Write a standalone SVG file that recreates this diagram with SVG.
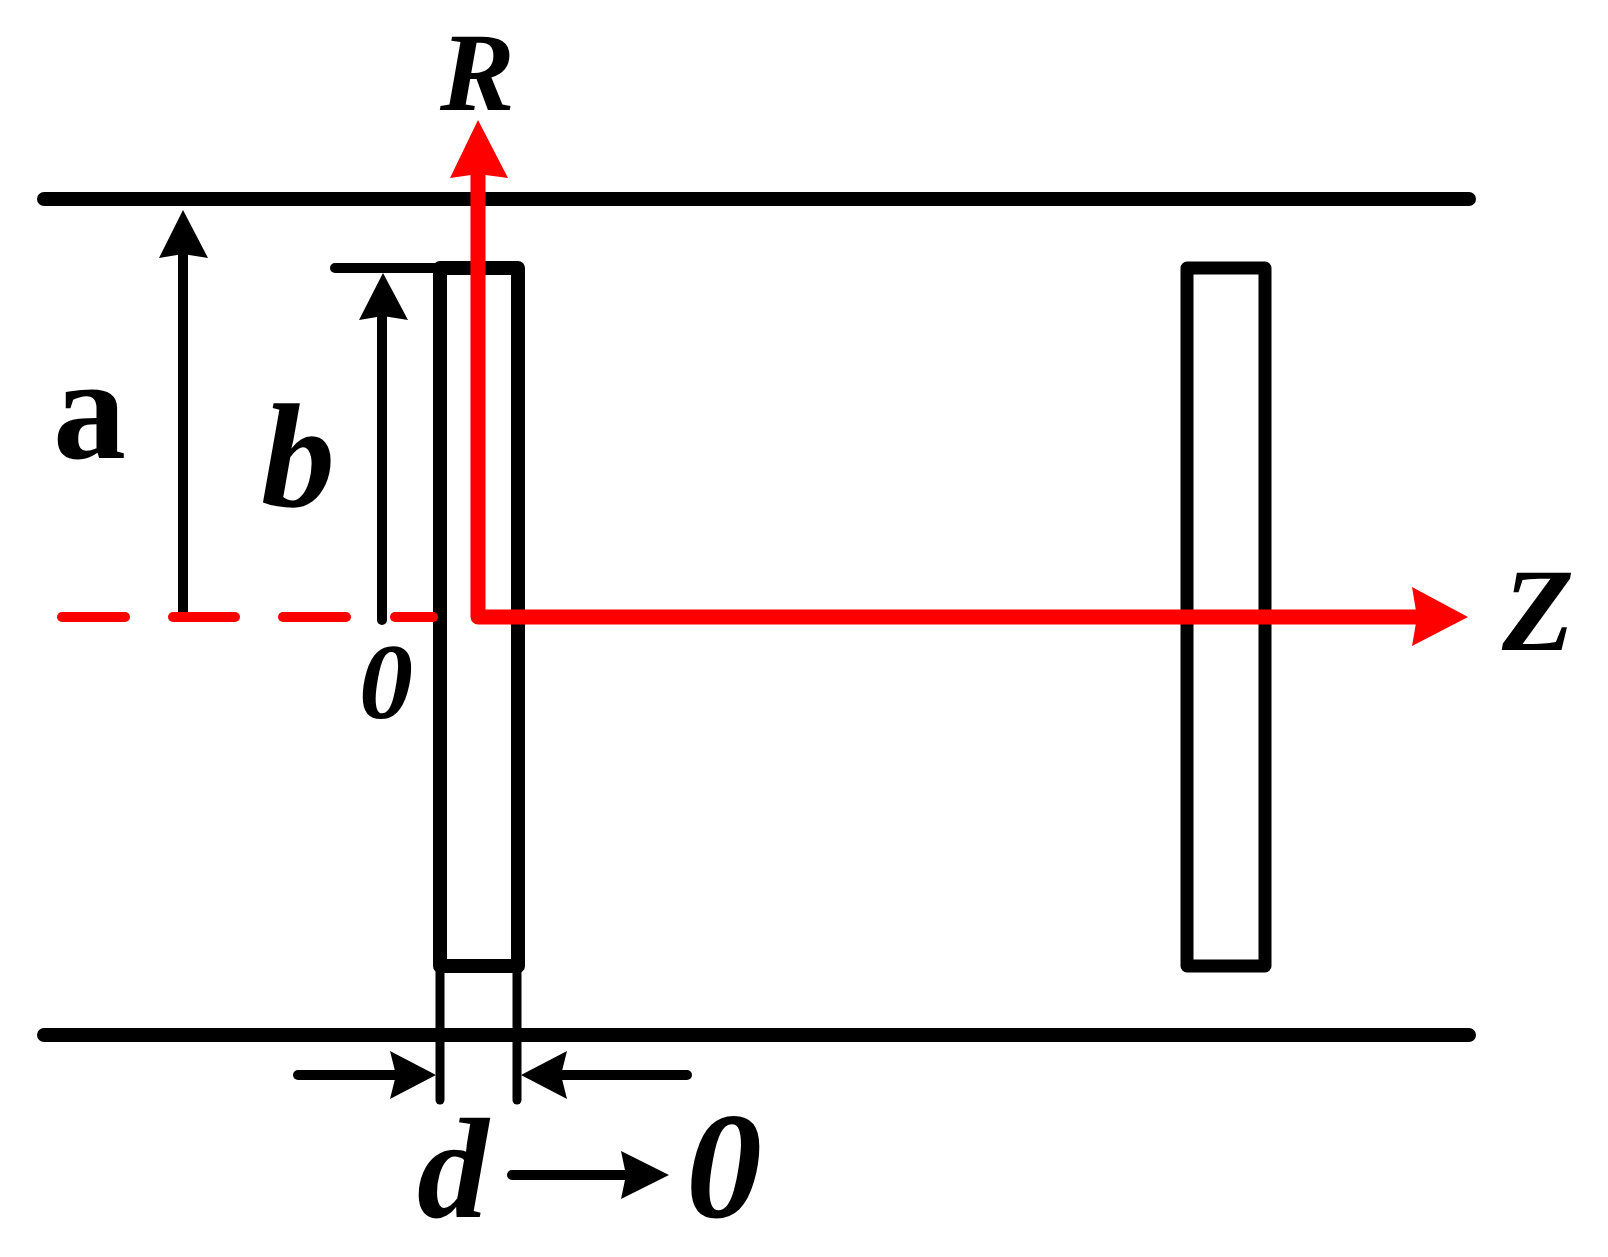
<svg xmlns="http://www.w3.org/2000/svg" width="1608" height="1257" viewBox="0 0 1608 1257">
<style>
.k{stroke:#000;fill:none;stroke-linecap:round;stroke-linejoin:round}
.plate{stroke:#000;fill:none;stroke-width:13;stroke-linejoin:round}
.thin{stroke-width:10}
.wall{stroke-width:14}
.r{stroke:#f00;fill:none;stroke-linecap:round;stroke-linejoin:round}
.hk{fill:#000}
.hr{fill:#f00}
text{font-family:"Liberation Serif","Times New Roman",serif;font-weight:bold;font-style:italic;fill:#000;text-rendering:geometricPrecision}
</style>
<rect width="1608" height="1257" fill="#fff"/>
<g id="waveguide-walls">
<line class="k wall" x1="44" y1="199" x2="1469" y2="199"/>
<line class="k wall" x1="44" y1="1035" x2="1469" y2="1035"/>
</g>
<g id="plate-left"><rect class="plate" x="440" y="268" width="78" height="698" style="stroke-width:14"/></g>
<g id="plate-right"><rect class="plate" x="1187" y="268" width="78" height="698"/></g>
<g id="connectors">
<g id="dim-a">
<line class="k thin" x1="183" y1="617" x2="183" y2="250"/>
<polygon class="hk" points="183,210 208,258 183,254 159,258"/>
</g>
<g id="dim-b">
<line class="k thin" x1="335" y1="268" x2="436" y2="268"/>
<line class="k thin" x1="382" y1="620" x2="382" y2="312"/>
<polygon class="hk" points="383,273 408,320 383,316 359,320"/>
</g>
<g id="dim-d">
<line class="k" stroke-width="9" x1="440" y1="966" x2="440" y2="1100"/>
<line class="k" stroke-width="9" x1="517" y1="966" x2="517" y2="1100"/>
<line class="k thin" x1="298" y1="1075" x2="400" y2="1075"/>
<polygon class="hk" points="436,1075 390,1051 396,1075 390,1099"/>
<line class="k thin" x1="555" y1="1075" x2="687" y2="1075"/>
<polygon class="hk" points="521,1075 567,1051 561,1075 567,1099"/>
</g>
<g id="arrow-d-to-0">
<line class="k thin" x1="512" y1="1175" x2="630" y2="1175"/>
<polygon class="hk" points="669,1175 621,1151 626,1175 621,1199"/>
</g>
<g id="axis-dashes">
<line class="r" stroke-width="10" x1="62" y1="617" x2="125" y2="617"/>
<line class="r" stroke-width="10" x1="173" y1="617" x2="235" y2="617"/>
<line class="r" stroke-width="10" x1="283" y1="617" x2="346" y2="617"/>
<line class="r" stroke-width="10" x1="395" y1="617" x2="433" y2="617"/>
</g>
<g id="axes">
<path class="r" stroke-width="15" d="M478 170V617H1425"/>
<polygon class="hr" points="478,120 508,178 478,174 450,178"/>
<polygon class="hr" points="1468,617 1412,587 1417,617 1412,646"/>
</g>
</g>
<g id="labels">
<text id="label-R" x="440" y="110" font-size="112">R</text>
<text id="label-a" x="53" y="458" font-size="146" style="font-style:normal">a</text>
<text id="label-b" x="261" y="506" font-size="148">b</text>
<text id="label-0" x="359" y="718" font-size="108">0</text>
<text id="label-Z" x="1502" y="650" font-size="118">Z</text>
<text id="label-d" x="417" y="1217" font-size="143">d</text>
<text id="label-0b" x="686" y="1217" font-size="152">0</text>
</g>
</svg>
